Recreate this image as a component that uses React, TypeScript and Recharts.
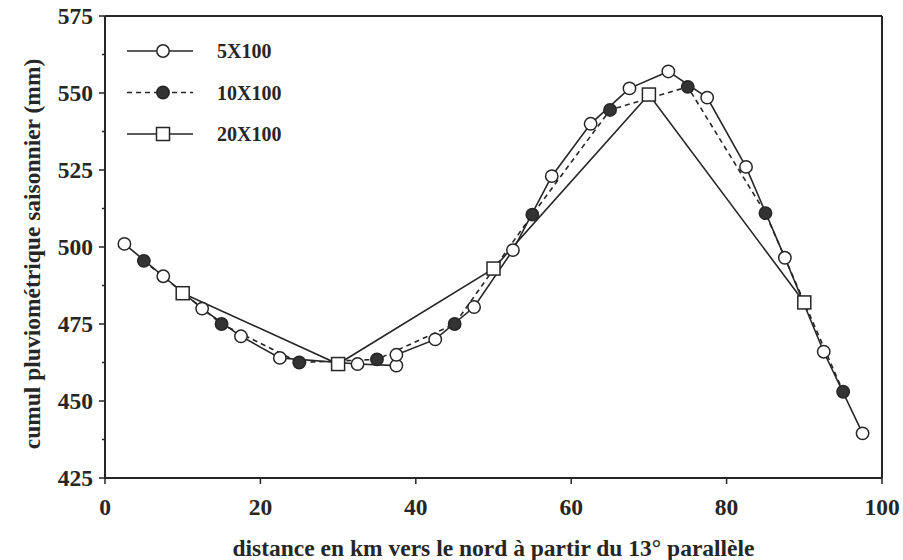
import React from 'react';
import { LineChart, Line, XAxis, YAxis, ReferenceLine } from 'recharts';

// Seasonal rainfall totals (mm) along a south-north transect, for three grid resolutions
const distance5 = [2.5, 7.5, 12.5, 17.5, 22.5, 32.5, 37.5, 37.5, 42.5, 47.5, 52.5, 57.5, 62.5, 67.5, 72.5, 77.5, 82.5, 87.5, 92.5, 97.5];
const cumul5 = [501, 490.5, 480, 471, 464, 462, 461.5, 465, 470, 480.5, 499, 523, 540, 551.5, 557, 548.5, 526, 496.5, 466, 439.5];

const distance10 = [5, 15, 25, 35, 45, 55, 65, 75, 85, 95];
const cumul10 = [495.5, 475, 462.5, 463.5, 475, 510.5, 544.5, 552, 511, 453];

const distance20 = [10, 30, 50, 70, 90];
const cumul20 = [485, 462, 493, 549.5, 482];

const xTicks = [0, 20, 40, 60, 80, 100];
const yTicks = [425, 437.5, 450, 462.5, 475, 487.5, 500, 512.5, 525, 537.5, 550, 562.5, 575];

const toPoints = (xs: number[], ys: number[]) => xs.map((km, i) => ({ km, mm: ys[i] }));

const INK = '#262626';
const FONT = '"Liberation Serif", "Times New Roman", serif';

const series = [
  { name: '5X100', data: toPoints(distance5, cumul5), marker: 'open', dash: undefined },
  { name: '10X100', data: toPoints(distance10, cumul10), marker: 'filled', dash: '5 4' },
  { name: '20X100', data: toPoints(distance20, cumul20), marker: 'square', dash: undefined },
];

function Marker({ kind, cx, cy }: { kind: string; cx: number; cy: number }) {
  if (kind === 'square') {
    return <rect x={cx - 6.5} y={cy - 6.5} width={13} height={13} fill="#fff" stroke={INK} strokeWidth={1.5} />;
  }
  return (
    <circle cx={cx} cy={cy} r={6.2} fill={kind === 'filled' ? '#333' : '#fff'} stroke={INK} strokeWidth={1.5} />
  );
}

function Label({ x, y, anchor = 'middle', size = 23.5, rotate = 0, children }: any) {
  return (
    <text
      transform={`translate(${x},${y}) rotate(${rotate})`}
      textAnchor={anchor}
      dy="0.35em"
      fontFamily={FONT}
      fontWeight="bold"
      fontSize={size}
      fill={INK}
    >
      {children}
    </text>
  );
}

function YTick({ x, y, payload }: any) {
  const major = payload.value % 25 === 0;
  return (
    <g>
      <line x1={x - (major ? 6 : 3)} x2={x} y1={y} y2={y} stroke={INK} strokeWidth={1.5} />
      {major && <Label x={x - 12} y={y} anchor="end">{payload.value}</Label>}
    </g>
  );
}

function XTick({ x, y, payload }: any) {
  return (
    <g>
      <line x1={x} x2={x} y1={y} y2={y + 6} stroke={INK} strokeWidth={1.5} />
      <Label x={x} y={y + 29}>{payload.value}</Label>
    </g>
  );
}

// legend drawn over the top-left corner of the plot
function LegendBox() {
  return (
    <svg width={200} height={130} style={{ position: 'absolute', left: 120, top: 30 }}>
      {series.map((s, i) => {
        const cy = 21 + i * 41.5;
        return (
          <g key={s.name}>
            <line x1={7} x2={73} y1={cy} y2={cy} stroke={INK} strokeWidth={1.5} strokeDasharray={s.dash} />
            <Marker kind={s.marker} cx={43} cy={cy} />
            <Label x={97} y={cy} anchor="start" size={20}>{s.name}</Label>
          </g>
        );
      })}
    </svg>
  );
}

export default function App() {
  return (
    <div style={{ position: 'absolute', left: 0, top: 0, width: 903, height: 560, background: '#fff' }}>
      <LineChart width={903} height={560} margin={{ top: 16, right: 21, bottom: 0, left: 0 }}>
        <XAxis
          type="number"
          dataKey="km"
          domain={[0, 100]}
          ticks={xTicks}
          interval={0}
          height={82}
          tickSize={0}
          tickMargin={0}
          tickLine={false}
          tick={<XTick />}
          axisLine={{ stroke: INK, strokeWidth: 2 }}
          label={{
            content: ({ viewBox }: any) => (
              <Label x={viewBox.x + viewBox.width / 2} y={viewBox.y + 70}>
                distance en km vers le nord à partir du 13° parallèle
              </Label>
            ),
          }}
        />
        <YAxis
          type="number"
          domain={[425, 575]}
          ticks={yTicks}
          interval={0}
          width={105}
          tickSize={0}
          tickMargin={0}
          tickLine={false}
          tick={<YTick />}
          axisLine={{ stroke: INK, strokeWidth: 2 }}
          label={{
            content: () => (
              <Label x={32} y={254} rotate={-90}>
                cumul pluviométrique saisonnier (mm)
              </Label>
            ),
          }}
        />
        {/* top and right edges of the frame */}
        <ReferenceLine y={575} stroke={INK} strokeWidth={2} />
        <ReferenceLine x={100} stroke={INK} strokeWidth={2} />
        {[...series].reverse().map((s) => (
          <Line
            key={s.name}
            data={s.data}
            dataKey="mm"
            name={s.name}
            type="linear"
            stroke={INK}
            strokeWidth={1.6}
            strokeDasharray={s.dash}
            isAnimationActive={false}
            dot={(p: any) => <Marker key={`${s.name}-${p.index}`} kind={s.marker} cx={p.cx} cy={p.cy} />}
            activeDot={false}
          />
        ))}
      </LineChart>
      <LegendBox />
    </div>
  );
}
